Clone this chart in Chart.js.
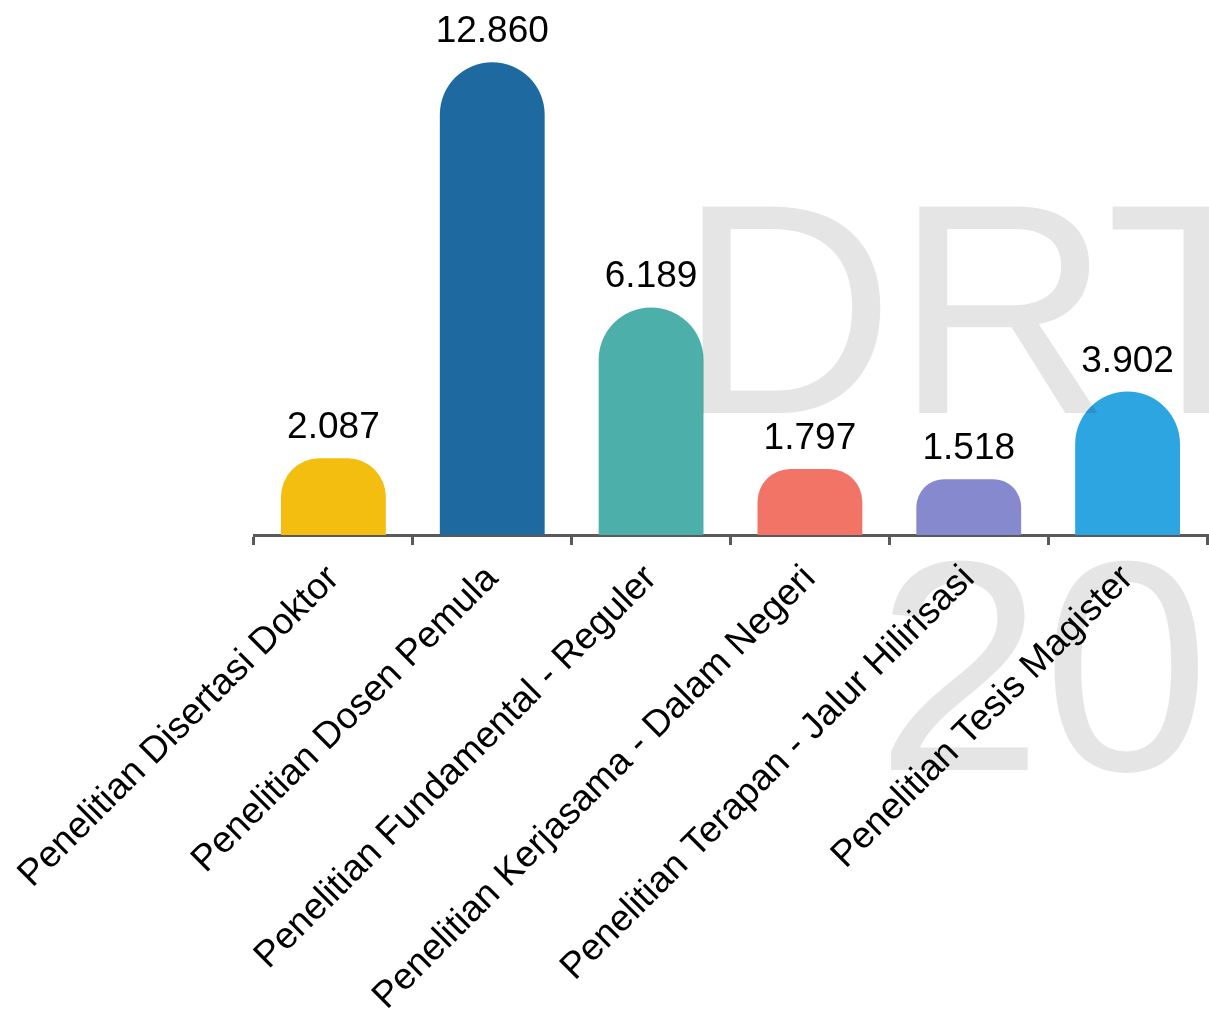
<!DOCTYPE html>
<html>
<head>
<meta charset="utf-8">
<script src="https://cdn.jsdelivr.net/npm/chart.js@4/dist/chart.umd.min.js"></script>
<style>
  html, body { margin: 0; padding: 0; background: #ffffff; }
  #wrap { width: 1209px; height: 1013px; position: relative; }
</style>
</head>
<body>
<div id="wrap"><canvas id="c" width="1209" height="1013"></canvas></div>
<script>
const categories = [
  "Penelitian Disertasi Doktor",
  "Penelitian Dosen Pemula",
  "Penelitian Fundamental - Reguler",
  "Penelitian Kerjasama - Dalam Negeri",
  "Penelitian Terapan - Jalur Hilirisasi",
  "Penelitian Tesis Magister"
];
const values = [2087, 12860, 6189, 1797, 1518, 3902];
const barColors = ["#F3BE0F", "#1D69A0", "#4DAFA9", "#F27466", "#8789CE", "#2DA5E1"];
const watermarkLines = ["DRT", "20"];

const FONT = "'Liberation Sans', Arial, Helvetica, sans-serif";
const fmt = new Intl.NumberFormat('id-ID');

const valueLabels = {
  id: 'valueLabels',
  afterDatasetsDraw(chart) {
    const ctx = chart.ctx;
    const meta = chart.getDatasetMeta(0);
    ctx.save();
    ctx.font = "37px " + FONT;
    ctx.fillStyle = "#000000";
    ctx.textAlign = "center";
    ctx.textBaseline = "alphabetic";
    meta.data.forEach((bar, i) => {
      ctx.fillText(fmt.format(values[i]), bar.x, bar.y - 20);
    });
    ctx.restore();
  }
};

const watermark = {
  id: 'watermark',
  afterDraw(chart) {
    const ctx = chart.ctx;
    ctx.save();
    ctx.font = "300px " + FONT;
    ctx.fillStyle = "rgba(0,0,0,0.1)";
    ctx.textAlign = "left";
    ctx.textBaseline = "alphabetic";
    ctx.fillText(watermarkLines[0], 678, 413);
    ctx.fillText(watermarkLines[1], 876, 770);
    ctx.restore();
  }
};

new Chart(document.getElementById('c'), {
  type: 'bar',
  data: {
    labels: categories,
    datasets: [{
      data: values,
      backgroundColor: barColors,
      borderWidth: 0,
      borderRadius: { topLeft: 200, topRight: 200 },
      borderSkipped: 'start',
      barPercentage: 0.66,
      categoryPercentage: 1.0
    }]
  },
  options: {
    responsive: false,
    devicePixelRatio: 1,
    animation: false,
    layout: { padding: { top: 57, left: 254, right: 2, bottom: 0 } },
    plugins: {
      legend: { display: false },
      tooltip: { enabled: false },
      title: { display: false }
    },
    scales: {
      x: {
        afterFit(scale) {
          scale.paddingLeft = 0;
          scale.paddingRight = 0;
        },
        grid: {
          display: true,
          drawOnChartArea: false,
          drawTicks: true,
          tickLength: 10,
          color: '#5a5a5a',
          lineWidth: 3,
          offset: true
        },
        border: { display: true, color: '#5a5a5a', width: 3 },
        ticks: {
          color: '#000000',
          font: { family: FONT, size: 37 },
          minRotation: 45,
          maxRotation: 45,
          autoSkip: false,
          padding: 12
        }
      },
      y: {
        display: false,
        min: 0,
        max: 13000
      }
    }
  },
  plugins: [valueLabels, watermark]
});
</script>
</body>
</html>
